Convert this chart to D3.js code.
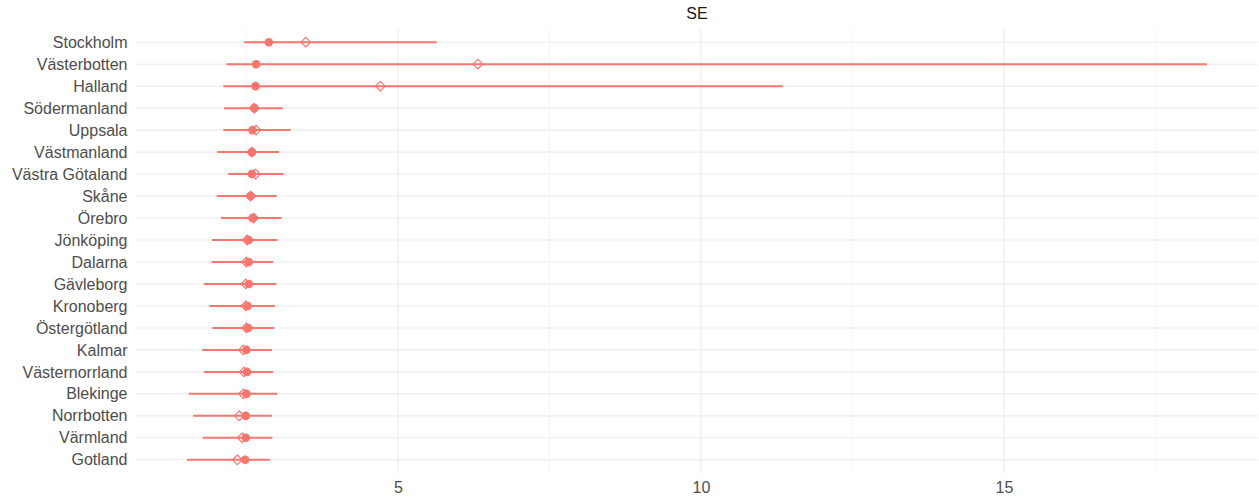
<!DOCTYPE html>
<html><head><meta charset="utf-8">
<script src="https://cdn.jsdelivr.net/npm/d3@7"></script>
<style>body{margin:0;background:#fff;} text{font-family:"Liberation Sans",Arial,sans-serif;}</style>
</head><body><svg id="c" width="1259" height="502"></svg>
<script>
const regions = ["Stockholm","Västerbotten","Halland","Södermanland","Uppsala","Västmanland","Västra Götaland","Skåne","Örebro","Jönköping","Dalarna","Gävleborg","Kronoberg","Östergötland","Kalmar","Västernorrland","Blekinge","Norrbotten","Värmland","Gotland"];
const lower  = [2.46,2.17,2.12,2.13,2.12,2.02,2.20,2.01,2.08,1.93,1.93,1.80,1.89,1.94,1.77,1.80,1.55,1.62,1.78,1.52];
const upper  = [5.64,18.35,11.35,3.10,3.23,3.04,3.11,3.00,3.08,3.01,2.94,2.99,2.97,2.96,2.92,2.94,3.01,2.92,2.93,2.89];
const median = [2.87,2.66,2.65,2.63,2.60,2.59,2.59,2.57,2.60,2.54,2.54,2.54,2.52,2.53,2.50,2.51,2.50,2.49,2.49,2.48];
const mean   = [3.48,6.32,4.71,2.63,2.66,2.59,2.65,2.57,2.62,2.51,2.50,2.49,2.49,2.50,2.45,2.46,2.45,2.38,2.43,2.35];
const majorTicks = [5,10,15];
const minorTicks = [2.5,7.5,12.5,17.5];
const title = "SE";

(function(){
const svg = d3.select("#c");
const pL = 136, pR = 1258, pT = 29, pB = 473;
const xmin = d3.min(lower), xmax = d3.max(upper), pad = (xmax - xmin) * 0.05;
const x = d3.scaleLinear().domain([xmin - pad, xmax + pad]).range([pL, pR]);
const y = d3.scalePoint().domain(regions).range([pT + 13.2, pB - 13.2]);
const col = "#F8766D";

const g = svg.append("g");
g.selectAll(".mn").data(minorTicks).enter().append("line")
  .attr("x1", d => x(d)).attr("x2", d => x(d)).attr("y1", pT).attr("y2", pB)
  .attr("stroke", "#EBEBEB").attr("stroke-width", 0.55);
g.selectAll(".mj").data(majorTicks).enter().append("line")
  .attr("x1", d => x(d)).attr("x2", d => x(d)).attr("y1", pT).attr("y2", pB)
  .attr("stroke", "#EBEBEB").attr("stroke-width", 1.1);
g.selectAll(".hy").data(regions).enter().append("line")
  .attr("x1", pL).attr("x2", pR).attr("y1", d => y(d)).attr("y2", d => y(d))
  .attr("stroke", "#EBEBEB").attr("stroke-width", 1.1);

const rows = regions.map((r, i) => ({r, lo: lower[i], hi: upper[i], md: median[i], mu: mean[i]}));
g.selectAll(".rng").data(rows).enter().append("line")
  .attr("x1", d => x(d.lo)).attr("x2", d => x(d.hi)).attr("y1", d => y(d.r)).attr("y2", d => y(d.r))
  .attr("stroke", col).attr("stroke-width", 2);
g.selectAll(".dot").data(rows).enter().append("circle")
  .attr("cx", d => x(d.md)).attr("cy", d => y(d.r)).attr("r", 4.3).attr("fill", col);
const s = 4.8;
g.selectAll(".dia").data(rows).enter().append("path")
  .attr("d", d => { const cx = x(d.mu), cy = y(d.r); return `M${cx},${cy-s}L${cx+s},${cy}L${cx},${cy+s}L${cx-s},${cy}Z`; })
  .attr("fill", "none").attr("stroke", col).attr("stroke-width", 1.2);

const ya = svg.append("g").attr("transform", `translate(${pL - 8.5},0)`)
  .call(d3.axisLeft(y).tickSize(0).tickPadding(0));
ya.select(".domain").remove();
ya.selectAll("text").attr("fill", "#4D4D4D").style("font-size", "16px").attr("font-family", "Liberation Sans, Arial, sans-serif");
const xa = svg.append("g").attr("transform", `translate(0,${pB + 9})`)
  .call(d3.axisBottom(x).tickValues(majorTicks).tickSize(0).tickPadding(0).tickFormat(d3.format("d")));
xa.select(".domain").remove();
xa.selectAll("text").attr("fill", "#4D4D4D").style("font-size", "16px").attr("dy", "0.71em").attr("font-family", "Liberation Sans, Arial, sans-serif");

svg.append("text").attr("x", (pL + pR) / 2).attr("y", 19).attr("text-anchor", "middle")
  .attr("fill", "#1A1A1A").style("font-size", "16px").text(title);
})();
</script></body></html>
